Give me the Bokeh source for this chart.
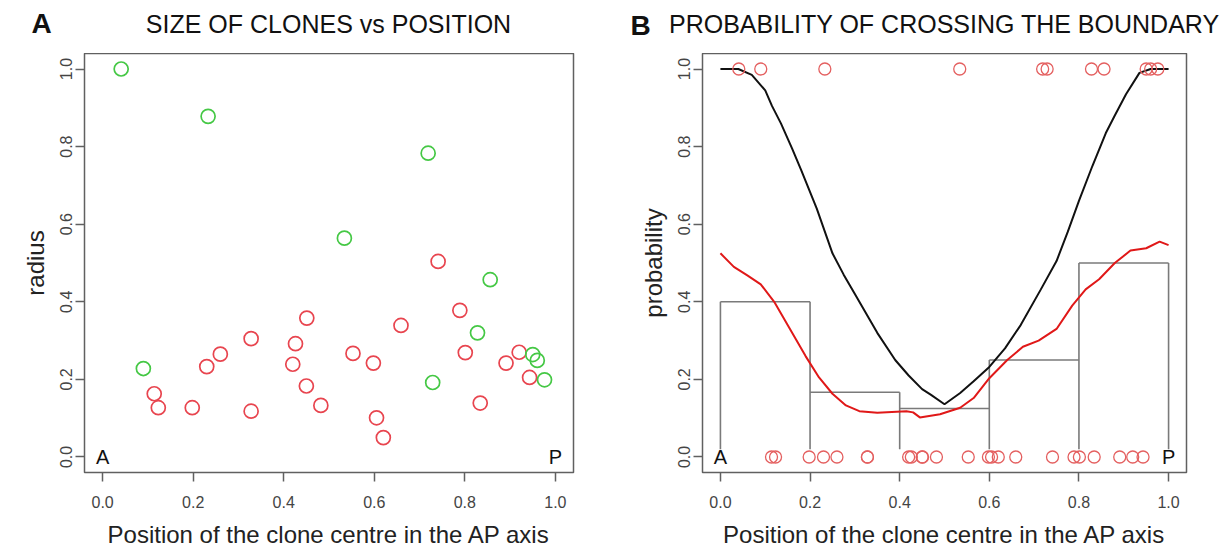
import numpy as np
from bokeh.plotting import figure
from bokeh.models import FixedTicker, PrintfTickFormatter, Label, Range1d
from bokeh.layouts import row, column
from bokeh.embed import file_html
from bokeh.resources import INLINE

# ---------------- data ----------------
# clones that crossed the boundary (green in A, top row in B)
green_x = [0.041, 0.090, 0.233, 0.534, 0.719, 0.729, 0.828, 0.856, 0.950, 0.960, 0.976]
green_r = [1.000, 0.228, 0.878, 0.564, 0.783, 0.192, 0.320, 0.457, 0.264, 0.249, 0.199]
# clones that did not cross (red in A, bottom row in B)
red_x = [0.114, 0.123, 0.198, 0.230, 0.260, 0.328, 0.328, 0.420, 0.426, 0.451, 0.450, 0.482,
         0.553, 0.598, 0.605, 0.620, 0.659, 0.741, 0.789, 0.801, 0.834, 0.891, 0.920, 0.943]
red_r = [0.163, 0.127, 0.127, 0.233, 0.265, 0.305, 0.118, 0.239, 0.292, 0.358, 0.183, 0.133,
         0.267, 0.242, 0.101, 0.050, 0.339, 0.504, 0.378, 0.269, 0.139, 0.242, 0.270, 0.205]

# binned crossing fraction (panel B)
bin_edges = [0.0, 0.2, 0.4, 0.6, 0.8, 1.0]
bin_prob = [0.400, 0.167, 0.125, 0.250, 0.500]

# model curve (black)
model_x = [0.000, 0.040, 0.070, 0.100, 0.115, 0.135, 0.160, 0.180, 0.215, 0.250, 0.275, 0.300,
           0.350, 0.390, 0.420, 0.450, 0.470, 0.500, 0.535, 0.565, 0.600, 0.635, 0.670, 0.715,
           0.750, 0.775, 0.800, 0.830, 0.860, 0.880, 0.905, 0.935, 0.960, 1.000]
model_y = [1.000, 1.000, 0.985, 0.945, 0.905, 0.860, 0.795, 0.740, 0.640, 0.525, 0.470, 0.420,
           0.320, 0.250, 0.210, 0.175, 0.160, 0.136, 0.165, 0.195, 0.232, 0.280, 0.340, 0.432,
           0.505, 0.580, 0.660, 0.750, 0.835, 0.880, 0.935, 0.990, 1.000, 1.000]

# smoothed estimate (red)
smooth_x = [0.000, 0.030, 0.060, 0.090, 0.120, 0.150, 0.190, 0.220, 0.250, 0.280, 0.310, 0.350,
            0.415, 0.430, 0.445, 0.490, 0.535, 0.565, 0.600, 0.640, 0.675, 0.710, 0.750, 0.785,
            0.815, 0.845, 0.880, 0.915, 0.950, 0.980, 1.000]
smooth_y = [0.525, 0.490, 0.468, 0.445, 0.400, 0.340, 0.260, 0.205, 0.163, 0.133, 0.118, 0.114,
            0.118, 0.115, 0.102, 0.110, 0.127, 0.152, 0.203, 0.250, 0.284, 0.300, 0.330, 0.390,
            0.432, 0.458, 0.500, 0.532, 0.538, 0.555, 0.546]

ticks = [0.0, 0.2, 0.4, 0.6, 0.8, 1.0]
FONT = "Liberation Sans"

W1, W2 = 608, 614
HEADER_H = 53
BODY_H = 497


def make_fig(width, left, right, ylabel):
    p = figure(width=width, height=BODY_H, title=None,
               x_range=Range1d(-0.04, 1.04), y_range=Range1d(-0.04, 1.04),
               output_backend="svg", toolbar_location=None,
               min_border_left=left, min_border_right=right,
               min_border_top=0, min_border_bottom=BODY_H - 424)
    p.grid.visible = False
    p.outline_line_color = "#606060"
    p.outline_line_width = 1.5
    p.background_fill_color = "white"
    p.border_fill_color = "white"
    for ax in (p.xaxis[0], p.yaxis[0]):
        ax.ticker = FixedTicker(ticks=ticks)
        ax.formatter = PrintfTickFormatter(format="%.1f")
        ax.axis_line_color = None
        ax.major_tick_line_color = "#606060"
        ax.major_tick_line_width = 1.5
        ax.major_tick_out = 9
        ax.major_tick_in = 0
        ax.minor_tick_line_color = None
        ax.major_label_text_font = FONT
        ax.major_label_text_font_size = "16px"
        ax.major_label_text_color = "#444444"
        ax.axis_label_text_font = FONT
        ax.axis_label_text_font_size = "24px"
        ax.axis_label_text_font_style = "normal"
        ax.axis_label_text_color = "#222222"
    p.xaxis.major_label_standoff = 14
    p.xaxis.axis_label_standoff = 10
    p.yaxis.major_label_standoff = 3
    p.yaxis.axis_label_standoff = 9
    p.xaxis.axis_label = "Position of the clone centre in the AP axis"
    p.yaxis.axis_label = ylabel
    p.yaxis.major_label_orientation = "vertical"
    return p


def corner_letters(p):
    p.add_layout(Label(x=0.0, y=0.0, text="A", text_align="center", text_baseline="middle",
                       text_font=FONT, text_font_size="20px", text_color="#111111"))
    p.add_layout(Label(x=1.0, y=0.0, text="P", text_align="center", text_baseline="middle",
                       text_font=FONT, text_font_size="20px", text_color="#111111"))


# ---------------- header (panel letters and titles) ----------------
head = figure(width=W1 + W2, height=HEADER_H, title=None,
              x_range=Range1d(0, W1 + W2), y_range=Range1d(HEADER_H, 0),
              x_axis_type=None, y_axis_type=None, output_backend="svg",
              toolbar_location=None, min_border=0)
head.grid.visible = False
head.outline_line_color = None
head.add_layout(Label(x=41, y=23, text="A", text_align="center", text_baseline="middle",
                      text_font=FONT, text_font_size="28px", text_font_style="bold",
                      text_color="#111111"))
head.add_layout(Label(x=328, y=23, text="SIZE OF CLONES vs POSITION", text_align="center",
                      text_baseline="middle", text_font=FONT, text_font_size="25px",
                      text_color="#111111"))
head.add_layout(Label(x=640, y=25, text="B", text_align="center", text_baseline="middle",
                      text_font=FONT, text_font_size="28px", text_font_style="bold",
                      text_color="#111111"))
head.add_layout(Label(x=944, y=23, text="PROBABILITY OF CROSSING THE BOUNDARY",
                      text_align="center", text_baseline="middle", text_font=FONT,
                      text_font_size="25px", text_color="#111111"))

# ---------------- panel A ----------------
p1 = make_fig(W1, 84, W1 - 84 - 489, "radius")
p1.scatter(red_x, red_r, marker="circle", size=14, fill_color=None,
           line_color="#E8454F", line_width=1.7)
p1.scatter(green_x, green_r, marker="circle", size=14, fill_color=None,
           line_color="#45C845", line_width=1.7)
corner_letters(p1)

# ---------------- panel B ----------------
p2 = make_fig(W2, 94, W2 - 94 - 484, "probability")
edges = np.array(bin_edges)
prob = np.array(bin_prob)
p2.segment(x0=edges[:-1], x1=edges[1:], y0=prob, y1=prob,
           line_color="#7a7a7a", line_width=1.6)
vert_top = np.maximum(np.append(prob, 0.0), np.insert(prob, 0, 0.0))
p2.segment(x0=edges, x1=edges, y0=np.full(len(edges), 0.02), y1=vert_top,
           line_color="#7a7a7a", line_width=1.6)
p2.line(model_x, model_y, line_color="#111111", line_width=2)
p2.line(smooth_x, smooth_y, line_color="#E01818", line_width=2)
p2.scatter(green_x, [1.0] * len(green_x), marker="circle", size=12, fill_color=None,
           line_color="#E46060", line_width=1.3)
p2.scatter(red_x, [0.0] * len(red_x), marker="circle", size=12, fill_color=None,
           line_color="#E46060", line_width=1.3)
corner_letters(p2)

layout = column(head, row(p1, p2))
open("out.html", "w").write(file_html(layout, INLINE))
